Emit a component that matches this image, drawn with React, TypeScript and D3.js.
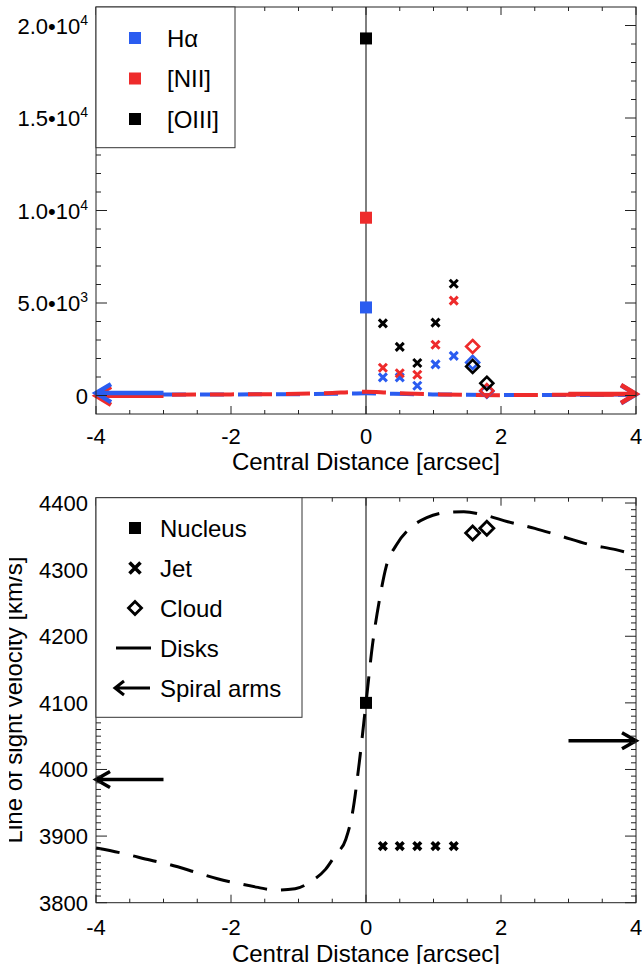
import React from "react";
import * as d3 from "d3";

const FONT = "'Liberation Sans', Arial, Helvetica, sans-serif";
const BLUE = "#2a5cf0";
const RED = "#ee2b2b";
const INK = "#000";

// ---- axis ticks ----
const xMajorTicks = [-4, -2, 0, 2, 4];
const xTickLabels = ["-4", "-2", "0", "2", "4"];
const topYMajorTicks = [0, 5000, 10000, 15000, 20000];
const topYMantissa = ["0", "5.0•10", "1.0•10", "1.5•10", "2.0•10"];
const topYExponent = ["", "3", "4", "4", "4"];
const botYMajorTicks = [3800, 3900, 4000, 4100, 4200, 4300, 4400];
const botYTickLabels = ["3800", "3900", "4000", "4100", "4200", "4300", "4400"];

// ---- top panel: line fluxes ----
const lineNames = ["Hα", "[NII]", "[OIII]"];
const nucleusX = 0;
const nucleusFlux = [4760, 9610, 19300]; // Hα, [NII], [OIII]
const jetX = [0.25, 0.5, 0.76, 1.03, 1.3];
const jetHa = [980, 980, 530, 1680, 2140];
const jetNII = [1500, 1200, 1120, 2740, 5130];
const jetOIII = [3900, 2630, 1760, 3940, 6040];
const cloudX = [1.58, 1.79];
const cloudHa = [1790, 230];
const cloudNII = [2650, 260];
const cloudOIII = [1570, 660];
const diskFluxX = [-4, -3, -2, -1, -0.5, -0.2, 0, 0.3, 0.6, 1, 1.5, 2, 3, 4];
const diskFluxHa = [70, 60, 60, 70, 90, 110, 120, 100, 80, 60, 40, 30, 30, 40];
const diskFluxNII = [30, 40, 60, 90, 140, 190, 200, 160, 110, 70, 30, 20, 40, 50];
const armFluxX = [[-3, -4], [3, 4]];
const armFluxHa = [130, 70];
const armFluxNII = [-20, 80];

// ---- bottom panel: velocities ----
const legendNames = ["Nucleus", "Jet", "Cloud", "Disks", "Spiral arms"];
const nucleusVel = 4100;
const jetVel = [3885, 3885, 3885, 3885, 3885];
const cloudVel = [4355, 4362];
const diskX = [-4, -3.6, -3.2, -2.9, -2.5, -2.2, -1.9, -1.6, -1.35, -1.05, -0.8, -0.6, -0.45, -0.3, -0.2, -0.1, 0, 0.1, 0.2, 0.3, 0.45, 0.65, 0.9, 1.2, 1.45, 1.75, 2.1, 2.5, 2.9, 3.3, 3.7, 4];
const diskVel = [3882, 3874, 3864, 3857, 3845, 3836, 3829, 3823, 3819, 3821, 3833, 3850, 3872, 3895, 3935, 4010, 4100, 4190, 4255, 4305, 4337, 4362, 4378, 4386, 4387, 4382, 4372, 4362, 4350, 4338, 4330, 4322];
const armVel = [3985, 4043];
const armX = [[-3, -4], [3, 4]];

const W = 642;
const H = 964;
const L = 96;
const R = 636;

const x = d3.scaleLinear().domain([-4, 4]).range([L, R]);
const yT = d3.scaleLinear().domain([-1000, 21000]).range([414, 7]);
const yB = d3.scaleLinear().domain([3800, 4408]).range([902.7, 497.7]);

function arrowPath(x1: number, y1: number, x2: number, y2: number, len: number, half: number) {
  const dx = x2 - x1, dy = y2 - y1;
  const d = Math.hypot(dx, dy) || 1;
  const ux = dx / d, uy = dy / d;
  const bx = x2 - ux * len, by = y2 - uy * len;
  const px = -uy * half, py = ux * half;
  return `M${x1},${y1}L${x2},${y2}M${bx + px},${by + py}L${x2},${y2}L${bx - px},${by - py}`;
}

function Frame({ y, minorY, majorY }: { y: d3.ScaleLinear<number, number>; minorY: number[]; majorY: number[] }) {
  const [bot, top] = y.range();
  const xMinor = d3.range(-4, 4.001, 0.5);
  const ticks: JSX.Element[] = [];
  xMinor.forEach((v, i) => {
    const major = Math.abs(v % 2) < 1e-9;
    const len = major ? 8 : 4;
    const px = x(v);
    ticks.push(<line key={"xb" + i} x1={px} x2={px} y1={bot} y2={bot - len} />);
    ticks.push(<line key={"xt" + i} x1={px} x2={px} y1={top} y2={top + len} />);
  });
  minorY.forEach((v, i) => {
    const major = majorY.includes(v);
    const len = major ? 11 : 5;
    const py = y(v);
    ticks.push(<line key={"yl" + i} x1={L} x2={L + len} y1={py} y2={py} />);
    ticks.push(<line key={"yr" + i} x1={R} x2={R - len} y1={py} y2={py} />);
  });
  return (
    <g stroke="#222" strokeWidth={1} fill="none">
      {ticks}
      <rect x={L} y={top} width={R - L} height={bot - top} />
    </g>
  );
}

function Cross({ cx, cy, r, color, sw }: { cx: number; cy: number; r: number; color: string; sw: number }) {
  return (
    <path d={`M${cx - r},${cy - r}L${cx + r},${cy + r}M${cx - r},${cy + r}L${cx + r},${cy - r}`} stroke={color} strokeWidth={sw} fill="none" />
  );
}

function Diamond({ cx, cy, r, color, sw }: { cx: number; cy: number; r: number; color: string; sw: number }) {
  return (
    <path d={`M${cx},${cy - r}L${cx + r},${cy}L${cx},${cy + r}L${cx - r},${cy}Z`} stroke={color} strokeWidth={sw} fill="none" />
  );
}

function Square({ cx, cy, s, color }: { cx: number; cy: number; s: number; color: string }) {
  return <rect x={cx - s / 2} y={cy - s / 2} width={s} height={s} fill={color} />;
}

export default function App() {
  const topColors = [BLUE, RED, INK];
  const jetSeries = [jetHa, jetNII, jetOIII];
  const cloudSeries = [cloudHa, cloudNII, cloudOIII];

  const topMinor = d3.range(0, 21000, 1000);
  const botMinor = d3.range(3810, 4408, 10).concat([3800]);

  const lineTop = d3.line<number>().x((_, i) => x(diskFluxX[i])).curve(d3.curveMonotoneX);
  const haPath = lineTop.y((v) => yT(v))(diskFluxHa) || "";
  const niiPath = lineTop.y((v) => yT(v))(diskFluxNII) || "";

  const diskLine = d3
    .line<number>()
    .x((_, i) => x(diskX[i]))
    .y((v) => yB(v))
    .curve(d3.curveMonotoneX);
  const diskPath = diskLine(diskVel) || "";

  const xLabelRows = [444, 935];
  const titleRows = [470, 962];

  return (
    <svg
      width={W}
      height={H}
      viewBox={`0 0 ${W} ${H}`}
      style={{ position: "absolute", left: 0, top: 0, display: "block", background: "#fff" }}
      fontFamily={FONT}
    >
      <defs>
        <clipPath id="ylabclip">
          <rect x={9} y={0} width={W} height={H} />
        </clipPath>
      </defs>
      <rect x={0} y={0} width={W} height={H} fill="#fff" />

      {/* ================= TOP PANEL ================= */}
      <line x1={x(0)} x2={x(0)} y1={yT.range()[0]} y2={yT.range()[1]} stroke="#000" strokeWidth={1} />

      {/* disks (dashed) and spiral arms (arrows) */}
      <path d={haPath} stroke={BLUE} strokeWidth={4} fill="none" strokeDasharray="24 14" strokeDashoffset={10} />
      <path d={arrowPath(x(armFluxX[1][0]), yT(armFluxHa[1]), x(armFluxX[1][1]), yT(armFluxHa[1]), 15, 9)} stroke={BLUE} strokeWidth={4.5} fill="none" />
      <path d={niiPath} stroke={RED} strokeWidth={4} fill="none" strokeDasharray="24 14" />
      {armFluxX.map((xs, i) => (
        <path key={"nii" + i} d={arrowPath(x(xs[0]), yT(armFluxNII[i]), x(xs[1]), yT(armFluxNII[i]), 15, 9)} stroke={RED} strokeWidth={4.5} fill="none" />
      ))}
      <path d={arrowPath(x(armFluxX[0][0]), yT(armFluxHa[0]), x(armFluxX[0][1]), yT(armFluxHa[0]), 15, 9)} stroke={BLUE} strokeWidth={4.5} fill="none" />

      {/* data markers */}
      {topColors.map((c, k) => (
        <g key={"ser" + k}>
          <Square cx={x(nucleusX)} cy={yT(nucleusFlux[k])} s={12} color={c} />
          {jetX.map((jx, i) => (
            <Cross key={"j" + i} cx={x(jx)} cy={yT(jetSeries[k][i])} r={4} color={c} sw={3} />
          ))}
          {cloudX.map((cx, i) => (
            <Diamond key={"c" + i} cx={x(cx)} cy={yT(cloudSeries[k][i])} r={6.5} color={c} sw={2.6} />
          ))}
        </g>
      ))}

      <Frame y={yT} minorY={topMinor} majorY={topYMajorTicks} />

      {/* legend top */}
      <rect x={L} y={7} width={139} height={140.7} fill="#fff" stroke="#333" strokeWidth={1} />
      {lineNames.map((n, i) => (
        <g key={"lg" + i}>
          <Square cx={135} cy={38 + i * 40.5} s={12} color={topColors[i]} />
          <text x={167} y={46.5 + i * 40.5} fontSize={24} fill="#000">{n}</text>
        </g>
      ))}

      {/* top y tick labels */}
      {topYMajorTicks.map((v, i) => (
        <text key={"tyl" + i} x={88} y={yT(v) + 8} fontSize={22} textAnchor="end" fill="#000">
          {topYMantissa[i]}
          {topYExponent[i] ? (
            <tspan dy={-9} fontSize={14}>{topYExponent[i]}</tspan>
          ) : null}
        </text>
      ))}

      {/* ================= BOTTOM PANEL ================= */}
      <line x1={x(0)} x2={x(0)} y1={yB.range()[0]} y2={yB.range()[1]} stroke="#000" strokeWidth={1} />
      <path d={diskPath} stroke="#000" strokeWidth={3} fill="none" strokeDasharray="24 14" />
      {armX.map((xs, i) => (
        <path key={"arm" + i} d={arrowPath(x(xs[0]), yB(armVel[i]), x(xs[1]), yB(armVel[i]), 14, 8)} stroke="#000" strokeWidth={3.5} fill="none" />
      ))}
      <Square cx={x(nucleusX)} cy={yB(nucleusVel)} s={12} color="#000" />
      {jetX.map((jx, i) => (
        <Cross key={"bj" + i} cx={x(jx)} cy={yB(jetVel[i])} r={3.8} color="#000" sw={3.6} />
      ))}
      {cloudX.map((cx, i) => (
        <Diamond key={"bc" + i} cx={x(cx)} cy={yB(cloudVel[i])} r={7} color="#000" sw={2.8} />
      ))}

      <Frame y={yB} minorY={botMinor} majorY={botYMajorTicks} />

      {/* legend bottom */}
      <rect x={L} y={497.7} width={206} height={219.6} fill="#fff" stroke="#333" strokeWidth={1} />
      {legendNames.map((n, i) => {
        const cy = 528 + i * 40;
        let sym: JSX.Element;
        if (i === 0) sym = <Square cx={135} cy={cy} s={12} color="#000" />;
        else if (i === 1) sym = <Cross cx={135} cy={cy} r={5.5} color="#000" sw={3.6} />;
        else if (i === 2) sym = <Diamond cx={135} cy={cy} r={6.5} color="#000" sw={2.8} />;
        else if (i === 3) sym = <line x1={116} x2={151} y1={cy} y2={cy} stroke="#000" strokeWidth={3} />;
        else sym = <path d={arrowPath(150, cy, 115, cy, 9, 7)} stroke="#000" strokeWidth={3} fill="none" />;
        return (
          <g key={"bl" + i}>
            {sym}
            <text x={160} y={cy + 9} fontSize={24} fill="#000">{n}</text>
          </g>
        );
      })}

      {/* bottom y tick labels */}
      {botYMajorTicks.map((v, i) => (
        <text key={"byl" + i} x={88} y={yB(v) + 8} fontSize={22} textAnchor="end" fill="#000">
          {botYTickLabels[i]}
        </text>
      ))}

      {/* x tick labels and titles for both panels */}
      {xLabelRows.map((ry, k) => (
        <g key={"xl" + k}>
          {xMajorTicks.map((v, i) => (
            <text key={"xt" + i} x={x(v)} y={ry} fontSize={22} textAnchor="middle" fill="#000">
              {xTickLabels[i]}
            </text>
          ))}
          <text x={x(0)} y={titleRows[k]} fontSize={24} textAnchor="middle" fill="#000">
            Central Distance [arcsec]
          </text>
        </g>
      ))}

      <g clipPath="url(#ylabclip)">
        <text transform="translate(22,700) rotate(-90)" fontSize={24} textAnchor="middle" fill="#000">
          Line of sight velocity [km/s]
        </text>
      </g>
    </svg>
  );
}
